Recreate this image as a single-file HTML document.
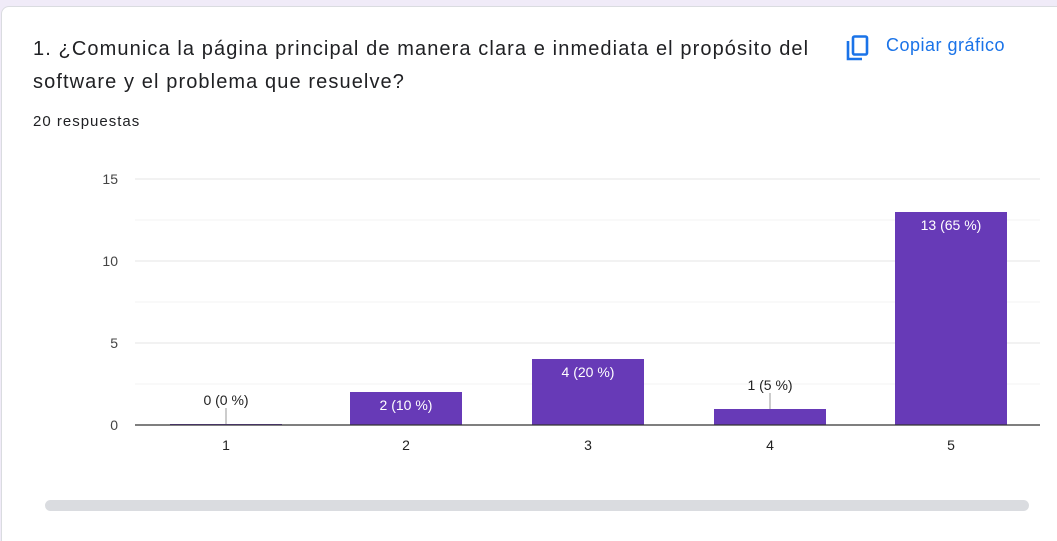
<!DOCTYPE html>
<html><head><style>
html,body{margin:0;width:1057px;height:541px;overflow:hidden;}
body{background:#f0ebf8;font-family:"Liberation Sans",Arial,sans-serif;position:relative;}
.card{position:absolute;left:1px;top:6px;width:1070px;height:560px;background:#fff;border:1px solid #dadce0;border-radius:8px;}
.t{position:absolute;left:33px;top:33px;font-size:20px;line-height:33px;color:#202124;width:800px;letter-spacing:1.1px;}
.r{position:absolute;left:33px;top:113px;font-size:15px;color:#202124;letter-spacing:1px;}
.c{position:absolute;left:886px;top:35px;font-size:18px;color:#1a73e8;letter-spacing:0.5px;}
.bar{position:absolute;height:11px;left:45px;top:500px;width:984px;background:#dadce0;border-radius:6px;}
</style></head><body>
<div class="card"></div>
<div class="t">1. ¿Comunica la página principal de manera clara e inmediata el propósito del software y el problema que resuelve?</div>
<div class="r">20 respuestas</div>
<svg style="position:absolute;left:845px;top:34px" width="26" height="28" viewBox="0 0 26 28">
<path d="M3 7 V25 H17" fill="none" stroke="#1a73e8" stroke-width="2.6"/>
<rect x="8" y="2.5" width="14" height="18" rx="1.5" fill="none" stroke="#1a73e8" stroke-width="2.6"/>
</svg>
<div class="c">Copiar gráfico</div>
<svg style="position:absolute;left:0;top:0" width="1057" height="541" font-family="Liberation Sans, Arial, sans-serif" font-size="14">
<g stroke="#f3f3f3"><line x1="135" x2="1040" y1="220" y2="220"/><line x1="135" x2="1040" y1="302" y2="302"/><line x1="135" x2="1040" y1="384" y2="384"/></g>
<g stroke="#e6e6e6"><line x1="135" x2="1040" y1="179" y2="179"/><line x1="135" x2="1040" y1="261" y2="261"/><line x1="135" x2="1040" y1="343" y2="343"/></g>
<g fill="#444" text-anchor="end"><text x="118" y="184">15</text><text x="118" y="266">10</text><text x="118" y="348">5</text><text x="118" y="430">0</text></g>
<g fill="#673ab7">
<rect x="170" y="424" width="112" height="1"/>
<rect x="350" y="392" width="112" height="33"/>
<rect x="532" y="359" width="112" height="66"/>
<rect x="714" y="409" width="112" height="16"/>
<rect x="895" y="212" width="112" height="213"/>
</g>
<line x1="135" x2="1040" y1="425" y2="425" stroke="#333" stroke-width="1.3"/>
<g stroke="#999"><line x1="226" x2="226" y1="408" y2="424"/><line x1="770" x2="770" y1="393" y2="409"/></g>
<g text-anchor="middle" fill="#222"><text x="226" y="405">0 (0 %)</text><text x="770" y="390">1 (5 %)</text></g>
<g text-anchor="middle" fill="#fff"><text x="406" y="410">2 (10 %)</text><text x="588" y="377">4 (20 %)</text><text x="951" y="230">13 (65 %)</text></g>
<g text-anchor="middle" fill="#222"><text x="226" y="450">1</text><text x="406" y="450">2</text><text x="588" y="450">3</text><text x="770" y="450">4</text><text x="951" y="450">5</text></g>
</svg>
<div class="bar"></div>
</body></html>
